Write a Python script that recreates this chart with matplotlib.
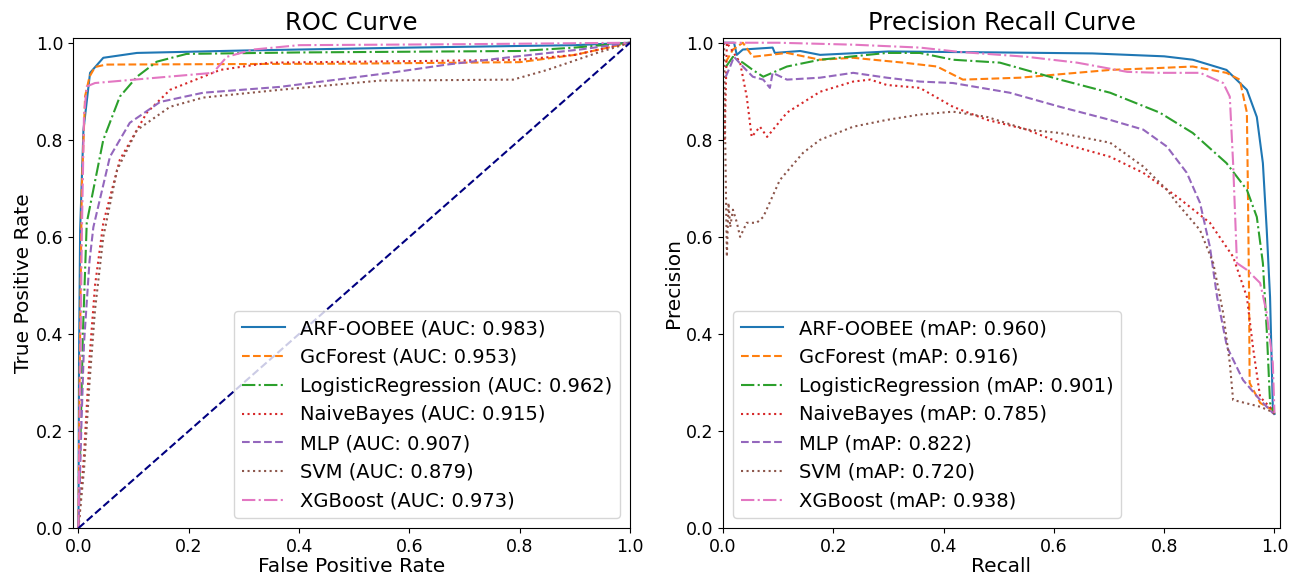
import matplotlib
matplotlib.use("Agg")
import matplotlib.pyplot as plt

models = ['ARF-OOBEE', 'GcForest', 'LogisticRegression', 'NaiveBayes', 'MLP', 'SVM', 'XGBoost']
auc_scores = [0.983, 0.953, 0.962, 0.915, 0.907, 0.879, 0.973]
map_scores = [0.960, 0.916, 0.901, 0.785, 0.822, 0.720, 0.938]

# ROC points (fpr, tpr)
roc_fpr = {
    'ARF-OOBEE': [0, 0.001, 0.003, 0.009, 0.021, 0.045, 0.106, 0.3, 0.6, 0.9, 1.0],
    'GcForest': [0, 0.002, 0.006, 0.012, 0.02, 0.03, 0.05, 0.5, 0.8, 0.9, 1.0],
    'LogisticRegression': [0, 0.004, 0.008, 0.015, 0.045, 0.075, 0.106, 0.142, 0.196, 0.4, 0.8, 0.9, 1.0],
    'NaiveBayes': [0, 0.01, 0.02, 0.03, 0.045, 0.075, 0.124, 0.166, 0.257, 0.347, 0.6, 0.8, 0.9, 1.0],
    'MLP': [0, 0.005, 0.01, 0.02, 0.027, 0.057, 0.093, 0.148, 0.226, 0.365, 0.565, 0.668, 0.788, 0.909, 1.0],
    'SVM': [0, 0.01, 0.02, 0.03, 0.045, 0.07, 0.106, 0.166, 0.226, 0.365, 0.547, 0.788, 0.85, 0.94, 1.0],
    'XGBoost': [0, 0.003, 0.006, 0.01, 0.015, 0.03, 0.244, 0.269, 0.317, 0.4, 0.7, 1.0],
}
roc_tpr = {
    'ARF-OOBEE': [0, 0.35, 0.614, 0.82, 0.938, 0.969, 0.979, 0.984, 0.99, 0.995, 1.0],
    'GcForest': [0, 0.3, 0.7, 0.89, 0.93, 0.95, 0.955, 0.957, 0.96, 0.975, 1.0],
    'LogisticRegression': [0, 0.2, 0.4, 0.629, 0.80, 0.889, 0.93, 0.961, 0.977, 0.98, 0.983, 0.99, 1.0],
    'NaiveBayes': [0, 0.15, 0.35, 0.5, 0.629, 0.759, 0.856, 0.903, 0.944, 0.959, 0.962, 0.965, 0.975, 1.0],
    'MLP': [0, 0.2, 0.38, 0.55, 0.62, 0.765, 0.835, 0.878, 0.897, 0.909, 0.938, 0.955, 0.971, 0.986, 1.0],
    'SVM': [0, 0.12, 0.3, 0.45, 0.6, 0.738, 0.82, 0.868, 0.887, 0.903, 0.922, 0.924, 0.944, 0.979, 1.0],
    'XGBoost': [0, 0.3, 0.6, 0.85, 0.91, 0.917, 0.938, 0.971, 0.986, 0.995, 0.997, 1.0],
}

# precision-recall points (recall, precision)
pr_recall = {
    'ARF-OOBEE': [0, 0.02, 0.025, 0.036, 0.09, 0.094, 0.14, 0.176, 0.3, 0.5, 0.67, 0.8, 0.852, 0.913,
                  0.95, 0.968, 0.979, 0.986, 0.992, 0.997, 1.0],
    'GcForest': [0.005, 0.018, 0.036, 0.054, 0.116, 0.176, 0.236, 0.327, 0.388, 0.435, 0.539, 0.702,
                 0.792, 0.852, 0.913, 0.937, 0.95, 0.952, 0.954, 0.955, 0.974, 0.997, 1.0],
    'LogisticRegression': [0.005, 0.018, 0.036, 0.054, 0.073, 0.116, 0.176, 0.297, 0.357, 0.417, 0.502,
                           0.611, 0.702, 0.792, 0.852, 0.913, 0.95, 0.968, 0.979, 0.986, 0.992, 1.0],
    'NaiveBayes': [0.003, 0.007, 0.031, 0.043, 0.052, 0.067, 0.08, 0.116, 0.176, 0.236, 0.267, 0.297,
                   0.357, 0.417, 0.479, 0.551, 0.611, 0.702, 0.762, 0.823, 0.883, 0.925, 0.95, 0.961,
                   0.974, 0.997, 1.0],
    'MLP': [0.005, 0.013, 0.02, 0.036, 0.054, 0.073, 0.085, 0.09, 0.116, 0.176, 0.236, 0.297, 0.357,
            0.417, 0.52, 0.611, 0.702, 0.762, 0.805, 0.841, 0.865, 0.883, 0.896, 0.914, 0.943, 0.974,
            0.997, 1.0],
    'SVM': [0.002, 0.004, 0.007, 0.01, 0.013, 0.018, 0.025, 0.031, 0.043, 0.061, 0.073, 0.103, 0.145,
            0.176, 0.236, 0.297, 0.357, 0.417, 0.479, 0.551, 0.611, 0.702, 0.762, 0.805, 0.823, 0.865,
            0.889, 0.907, 0.919, 0.925, 0.974, 0.997, 1.0],
    'XGBoost': [0, 0.1, 0.236, 0.357, 0.43, 0.551, 0.642, 0.733, 0.792, 0.865, 0.907, 0.919, 0.925,
                0.932, 0.95, 0.974, 0.986, 0.997, 1.0],
}
pr_precision = {
    'ARF-OOBEE': [1.0, 1.0, 0.975, 0.986, 0.99, 0.979, 0.983, 0.975, 0.982, 0.98, 0.978, 0.972, 0.965,
                  0.944, 0.903, 0.847, 0.752, 0.614, 0.476, 0.25, 0.235],
    'GcForest': [0.96, 0.986, 1.0, 0.971, 0.979, 0.965, 0.969, 0.959, 0.951, 0.924, 0.928, 0.944,
                 0.948, 0.951, 0.938, 0.924, 0.856, 0.683, 0.476, 0.299, 0.258, 0.243, 0.235],
    'LogisticRegression': [0.95, 0.971, 0.959, 0.944, 0.93, 0.951, 0.965, 0.979, 0.979, 0.965, 0.959,
                           0.924, 0.897, 0.856, 0.814, 0.752, 0.697, 0.641, 0.546, 0.408, 0.258, 0.235],
    'NaiveBayes': [0.8, 1.0, 0.959, 0.889, 0.806, 0.827, 0.806, 0.856, 0.899, 0.92, 0.924, 0.913,
                   0.907, 0.868, 0.841, 0.821, 0.794, 0.765, 0.732, 0.683, 0.629, 0.559, 0.476, 0.373,
                   0.27, 0.243, 0.235],
    'MLP': [0.93, 0.951, 0.971, 0.951, 0.93, 0.924, 0.907, 0.938, 0.924, 0.928, 0.938, 0.928, 0.92,
            0.917, 0.897, 0.868, 0.841, 0.821, 0.786, 0.732, 0.67, 0.579, 0.476, 0.373, 0.305, 0.264,
            0.237, 0.235],
    'SVM': [1.0, 0.8, 0.559, 0.67, 0.62, 0.656, 0.63, 0.6, 0.629, 0.629, 0.641, 0.717, 0.773, 0.8,
            0.827, 0.841, 0.852, 0.858, 0.847, 0.821, 0.814, 0.794, 0.745, 0.697, 0.67, 0.614, 0.546,
            0.443, 0.34, 0.264, 0.25, 0.239, 0.235],
    'XGBoost': [1.0, 1.0, 0.996, 0.99, 0.981, 0.971, 0.959, 0.94, 0.938, 0.938, 0.917, 0.889, 0.752,
                0.546, 0.532, 0.505, 0.443, 0.34, 0.237],
}

colors = ['C0', 'C1', 'C2', 'C3', 'C4', 'C5', 'C6']
styles = ['-', '--', '-.', ':', '--', ':', '-.']


def plot_roc(ax):
    for i, name in enumerate(models):
        ax.plot(roc_fpr[name], roc_tpr[name], color=colors[i], linestyle=styles[i], lw=1.5,
                label=f'{name} (AUC: {auc_scores[i]:.3f})')
    ax.plot([0, 1], [0, 1], color='navy', linestyle='--', lw=1.5)
    ax.set_xlim([-0.01, 1.0])
    ax.set_ylim([0.0, 1.01])
    ax.set_xlabel('False Positive Rate', fontsize=14.5, labelpad=1)
    ax.set_ylabel('True Positive Rate', fontsize=14.5, labelpad=2)
    ax.set_title('ROC Curve', fontsize=17.5)
    ax.legend(loc='lower right', fontsize=14, handlelength=2.2, labelspacing=0.5)


def plot_pr(ax):
    for i, name in enumerate(models):
        ax.plot(pr_recall[name], pr_precision[name], color=colors[i], linestyle=styles[i], lw=1.5,
                label=f'{name} (mAP: {map_scores[i]:.3f})')
    ax.set_xlim([0.0, 1.01])
    ax.set_ylim([0.0, 1.01])
    ax.set_xlabel('Recall', fontsize=14.5, labelpad=1)
    ax.set_ylabel('Precision', fontsize=14.5, labelpad=2)
    ax.set_title('Precision Recall Curve', fontsize=17.5)
    ax.legend(loc='lower left', fontsize=14, handlelength=2.2, labelspacing=0.5)


if __name__ == "__main__":
    fig = plt.figure(figsize=(12.89, 5.74), dpi=100)
    ax1 = fig.add_axes([0.0566, 0.080, 0.4322, 0.854])
    ax2 = fig.add_axes([0.5609, 0.080, 0.4321, 0.854])
    for ax in (ax1, ax2):
        ax.tick_params(labelsize=12.5)
    plot_roc(ax1)
    plot_pr(ax2)
    fig.savefig('out.png', dpi=100)
